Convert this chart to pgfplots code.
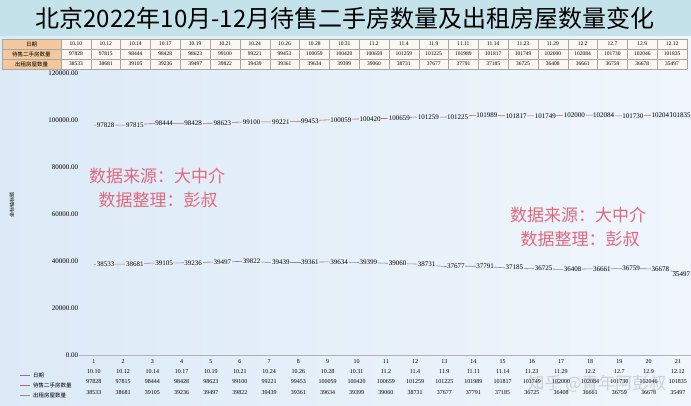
\documentclass[border=0pt]{standalone}
\usepackage{pgfplots}
\pgfplotsset{compat=1.18}
\usepackage{pgfplotstable}
\usepackage{fontspec}
\setmainfont{Liberation Serif}
\newfontfamily\cjk{Noto Sans CJK SC}

\definecolor{bgA}{RGB}{220,234,247}
\definecolor{bgB}{RGB}{240,246,252}
\definecolor{labbg}{RGB}{234,242,250}
\definecolor{titlebg}{RGB}{196,226,234}
\definecolor{hdr}{RGB}{244,200,156}
\definecolor{cellbg}{RGB}{252,247,240}
\definecolor{salec}{RGB}{190,95,125}
\definecolor{rentc}{RGB}{135,140,160}
\definecolor{datec}{RGB}{150,110,160}
\definecolor{wm}{RGB}{226,105,125}

\pgfplotstableread{
x sale sdx rent rdx rdy
1 97828 2 38533 2 0
2 97815 2 38681 2 0
3 98444 2 39105 2 0
4 98428 2 39236 2 0
5 98623 2 39497 2 0
6 99100 2 39822 2 0
7 99221 2 39439 2 0
8 99453 2 39361 2 0
9 100059 2 39634 2 0
10 100420 2 39399 2 0
11 100659 2 39060 2 0
12 101259 2 38731 2 0
13 101225 2 37677 2 0
14 101989 2 37791 2 0
15 101817 2 37185 2 0
16 101749 2 36725 2 0
17 102000 2 36408 2 0
18 102084 2 36661 2 0
19 101730 2 36759 2 0
20 102046 2 36678 2 0
21 101835 -9 35497 -6 -3
}\data

\def\dates{10.10,10.12,10.14,10.17,10.19,10.21,10.24,10.26,10.28,10.31,11.2,11.4,11.9,11.11,11.14,11.23,11.29,12.2,12.7,12.9,12.12}
\def\sales{97828,97815,98444,98428,98623,99100,99221,99453,100059,100420,100659,101259,101225,101989,101817,101749,102000,102084,101730,102046,101835}
\def\rents{38533,38681,39105,39236,39497,39822,39439,39361,39634,39399,39060,38731,37677,37791,37185,36725,36408,36661,36759,36678,35497}

\begin{document}
\begin{tikzpicture}
\path[use as bounding box] (0pt,0pt) rectangle (691pt,-405pt);
\shade[left color=bgA, right color=bgB] (0pt,0pt) rectangle (691pt,-405pt);
% title bar
\fill[titlebg] (0pt,0pt) rectangle (691pt,-36pt);
\node[font=\cjk\fontsize{24}{25}\selectfont] at (345pt,-18pt) {北京2022年10月-12月待售二手房数量及出租房屋数量变化};
% top table
\fill[hdr] (2pt,-39pt) rectangle (61pt,-69pt);
\fill[cellbg] (61pt,-39pt) rectangle (687pt,-69pt);
\foreach \r in {39,49,59,69} {\draw[gray!70, line width=0.3pt] (2pt,-\r pt) -- (687pt,-\r pt);}
\draw[gray!70, line width=0.3pt] (2pt,-39pt) -- (2pt,-69pt);
\foreach \i in {0,...,21} {\pgfmathsetmacro\cx{61+\i*29.81}\draw[gray!70, line width=0.3pt] (\cx pt,-39pt) -- (\cx pt,-69pt);}
\node[font=\cjk\fontsize{5.5}{6}\selectfont] at (31.5pt,-44pt) {日期};
\node[font=\cjk\fontsize{5.5}{6}\selectfont] at (31.5pt,-54pt) {待售二手房数量};
\node[font=\cjk\fontsize{5.5}{6}\selectfont] at (31.5pt,-64pt) {出租房屋数量};
\foreach \d [count=\i] in \dates {\pgfmathsetmacro\cx{61+(\i-0.5)*29.81}\node[font=\fontsize{5.5}{6}\selectfont] at (\cx pt,-44pt) {\d};}
\foreach \d [count=\i] in \sales {\pgfmathsetmacro\cx{61+(\i-0.5)*29.81}\node[font=\fontsize{5.5}{6}\selectfont] at (\cx pt,-54pt) {\d};}
\foreach \d [count=\i] in \rents {\pgfmathsetmacro\cx{61+(\i-0.5)*29.81}\node[font=\fontsize{5.5}{6}\selectfont] at (\cx pt,-64pt) {\d};}
% y axis title
\node[rotate=90, font=\cjk\fontsize{5}{6}\selectfont] at (12pt,-205pt) {坐标轴标题};
% watermarks
\node[wm, font=\cjk\fontsize{17}{18}\selectfont] at (157pt,-176pt) {数据来源：大中介};
\node[wm, font=\cjk\fontsize{17}{18}\selectfont] at (158pt,-200pt) {数据整理：彭叔};
\node[wm, font=\cjk\fontsize{17}{18}\selectfont] at (578pt,-215pt) {数据来源：大中介};
\node[wm, font=\cjk\fontsize{17}{18}\selectfont] at (580pt,-239pt) {数据整理：彭叔};

\begin{axis}[
  at={(79.4pt,-355pt)}, anchor=south west,
  scale only axis, width=613pt, height=282pt,
  xmin=0.5, xmax=21.5, ymin=0, ymax=120000,
  clip=false,
  axis line style={draw=none},
  xtick={1,...,21}, ytick=\empty,
  xtick pos=bottom,
  major tick length=0pt,
  xticklabel style={font=\fontsize{6}{10.2}\selectfont, align=center, yshift=-1pt},
  xticklabels={
    {1\\10.10\\97828\\38533},{2\\10.12\\97815\\38681},{3\\10.14\\98444\\39105},
    {4\\10.17\\98428\\39236},{5\\10.19\\98623\\39497},{6\\10.21\\99100\\39822},
    {7\\10.24\\99221\\39439},{8\\10.26\\99453\\39361},{9\\10.28\\100059\\39634},
    {10\\10.31\\100420\\39399},{11\\11.2\\100659\\39060},{12\\11.4\\101259\\38731},
    {13\\11.9\\101225\\37677},{14\\11.11\\101989\\37791},{15\\11.14\\101817\\37185},
    {16\\11.23\\101749\\36725},{17\\11.29\\102000\\36408},{18\\12.2\\102084\\36661},
    {19\\12.7\\101730\\36759},{20\\12.9\\102046\\36678},{21\\12.12\\101835\\35497}},
]
\draw[gray!60, line width=0.5pt] (rel axis cs:0,0) -- (rel axis cs:1,0);
\node[anchor=east, font=\fontsize{7}{8}\selectfont, inner sep=1pt] at (rel axis cs:0,0) {0.00};
\node[anchor=east, font=\fontsize{7}{8}\selectfont, inner sep=1pt] at (rel axis cs:0,0.16667) {20000.00};
\node[anchor=east, font=\fontsize{7}{8}\selectfont, inner sep=1pt] at (rel axis cs:0,0.33333) {40000.00};
\node[anchor=east, font=\fontsize{7}{8}\selectfont, inner sep=1pt] at (rel axis cs:0,0.5) {60000.00};
\node[anchor=east, font=\fontsize{7}{8}\selectfont, inner sep=1pt] at (rel axis cs:0,0.66667) {80000.00};
\node[anchor=east, font=\fontsize{7}{8}\selectfont, inner sep=1pt] at (rel axis cs:0,0.83333) {100000.00};
\node[anchor=east, font=\fontsize{7}{8}\selectfont, inner sep=1pt] at (rel axis cs:0,1) {120000.00};
\addplot[salec, line width=0.6pt, mark=none,
  point meta=explicit symbolic,
  visualization depends on={\thisrow{sdx} \as \sdx},
  nodes near coords,
  every node near coord/.append style={anchor=west, xshift=\sdx*1pt, black,
     font=\fontsize{7}{7.5}\selectfont, fill=labbg, inner sep=0.6pt}]
  table[x=x, y=sale, meta=sale] {\data};
\addplot[rentc, line width=0.6pt, mark=none,
  point meta=explicit symbolic,
  visualization depends on={\thisrow{rdx} \as \rdx},
  visualization depends on={\thisrow{rdy} \as \rdy},
  nodes near coords,
  every node near coord/.append style={anchor=west, xshift=\rdx*1pt, yshift=\rdy*1pt, black,
     font=\fontsize{7}{7.5}\selectfont, fill=labbg, inner sep=0.6pt}]
  table[x=x, y=rent, meta=rent] {\data};
\end{axis}

% bottom legend
\draw[datec, line width=0.6pt] (20pt,-375pt) -- (30pt,-375pt);
\node[anchor=west, font=\cjk\fontsize{5.5}{6}\selectfont, inner sep=1pt] at (32pt,-375pt) {日期};
\draw[salec, line width=0.6pt] (20pt,-385pt) -- (30pt,-385pt);
\node[anchor=west, font=\cjk\fontsize{5.5}{6}\selectfont, inner sep=1pt] at (32pt,-385pt) {待售二手房数量};
\draw[rentc, line width=0.6pt] (20pt,-395pt) -- (30pt,-395pt);
\node[anchor=west, font=\cjk\fontsize{5.5}{6}\selectfont, inner sep=1pt] at (32pt,-395pt) {出租房屋数量};
% zhihu watermark
\node[gray, opacity=0.3, font=\cjk\fontsize{17}{18}\selectfont] at (597pt,-384pt) {知乎 @青年阿彭叔};
\end{tikzpicture}
\end{document}
